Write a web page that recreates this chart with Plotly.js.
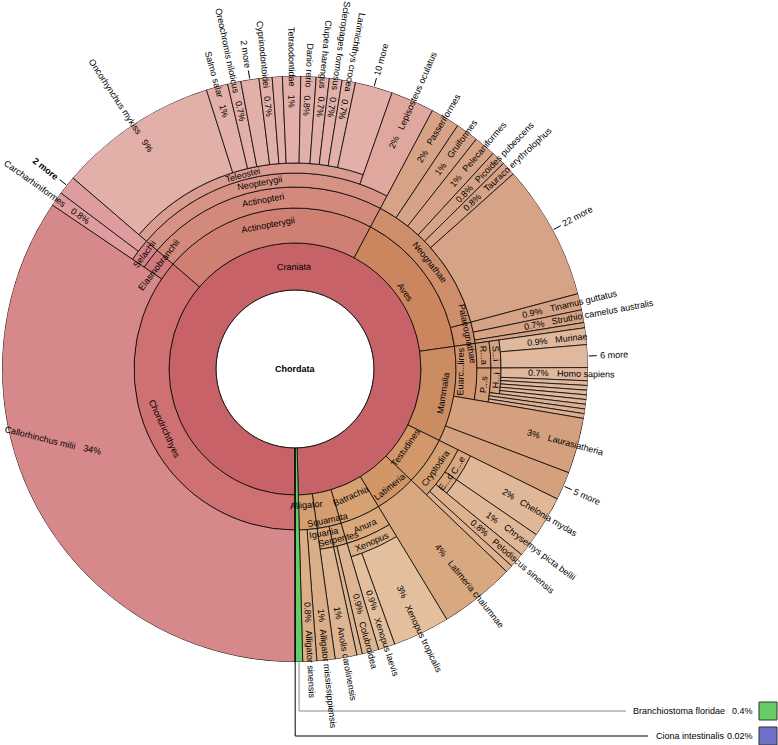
<!DOCTYPE html>
<html><head><meta charset="utf-8">
<script src="https://cdn.plot.ly/plotly-3.0.1.min.js"></script>
<style>html,body{margin:0;padding:0;background:#fff;}#chart{width:778px;height:745px;}</style>
</head><body><div id="chart"></div>
<script>
// ---------------- data (percent of all reads) ----------------
const ids = [
 'Chordata','Craniata',
 'Chondrichthyes','Callorhinchus milii','Elasmobranchii','Selachii','Carcharhiniformes','2 more·Selachii',
 'Actinopterygii','Actinopteri','Neopterygii','Teleostei','Oncorhynchus mykiss','Salmo salar','Oreochromis niloticus',
 '2 more·Teleostei','Cyprinodontoidei','·t1','Tetraodontidae','Danio rerio','Clupea harengus','Scleropages formosus',
 'Larimichthys crocea','10 more·Teleostei','Lepisosteus oculatus',
 'Aves','Neognathae','Passeriformes','Gruiformes','Pelecaniformes','Picoides pubescens','Tauraco erythrolophus',
 '22 more·Neognathae','Palaeognathae','Tinamus guttatus','Struthio camelus australis','·p1',
 'Mammalia','Euarchontoglires','Rodentia','Sciurognathi','Murinae','6 more·Sciurognathi','Primates','Haplorrhini',
 'Homo sapiens','·h1','·h2','·h3','·h4','·h5','·q1','·q2','·q3','Laurasiatheria','5 more·Mammalia',
 'Testudines','Cryptodira','Cheloniidae','Chelonia mydas','Emydidae','Chrysemys picta bellii','Pelodiscus sinensis','·c1',
 'Latimeria','Latimeria chalumnae',
 'Batrachia','Anura','Xenopus','Xenopus tropicalis','Xenopus laevis',
 'Squamata','Serpentes','Colubroidea','·s1','Iguania','Anolis carolinensis',
 'Alligator','Alligator mississippiensis','Alligator sinensis',
 'Branchiostoma floridae','Ciona intestinalis'
];
const parents = [
 '','Chordata',
 'Craniata','Chondrichthyes','Chondrichthyes','Elasmobranchii','Selachii','Selachii',
 'Craniata','Actinopterygii','Actinopteri','Neopterygii','Teleostei','Teleostei','Teleostei',
 'Teleostei','Teleostei','Teleostei','Teleostei','Teleostei','Teleostei','Teleostei',
 'Teleostei','Teleostei','Neopterygii',
 'Craniata','Aves','Neognathae','Neognathae','Neognathae','Neognathae','Neognathae',
 'Neognathae','Aves','Palaeognathae','Palaeognathae','Palaeognathae',
 'Craniata','Mammalia','Euarchontoglires','Rodentia','Sciurognathi','Sciurognathi','Euarchontoglires','Primates',
 'Haplorrhini','Haplorrhini','Haplorrhini','Haplorrhini','Haplorrhini','Haplorrhini','Primates','Primates','Primates','Mammalia','Mammalia',
 'Craniata','Testudines','Cryptodira','Cheloniidae','Cryptodira','Emydidae','Cryptodira','Cryptodira',
 'Craniata','Latimeria',
 'Craniata','Batrachia','Anura','Xenopus','Xenopus',
 'Craniata','Squamata','Serpentes','Serpentes','Squamata','Iguania',
 'Craniata','Alligator','Alligator',
 'Chordata','Chordata'
];
const values = [
 0,0,
 0,34.45,0,0,0.8,1.05,
 0,0,0,0,8.8,1.19,0.73,
 1.0,0.72,0.56,1.0,0.84,0.72,0.7,
 0.74,2.06,2.4,
 0,0,1.6,1.25,1.2,0.78,0.78,
 7.47,0,0.9,0.7,0.29,
 0,0,0,0,0.92,1.25,0,0,
 0.72,0.256,0.256,0.256,0.256,0.256,0.26,0.26,0.26,3.06,1.56,
 0,0,0,2.25,0,1.35,0.82,0.41,
 0,4.17,
 0,0,0,3.14,0.92,
 0,0,0.92,0.3,0,1.2,
 0,1.0,0.77,
 0.4,0.02
];
const shortNames = {Euarchontoglires:'Euarc...lires', Rodentia:'R...a', Sciurognathi:'S...i', Primates:'P...s',
  Haplorrhini:'H...i', Cheloniidae:'C...e', Emydidae:'E...d'};

// ---------------- layout constants ----------------
const W=778, H=745, CX=295, CY=369, R=293;
const RING=[0,79,126,161,182,196,206,214,221,227];
const FONT="Liberation Sans, Arial, sans-serif", FS=9;
const groupBase = {Chondrichthyes:[207,112,114], Actinopterygii:[208,128,114], Aves:[203,134,96],
  Mammalia:[203,140,98], Testudines:[210,152,106], Latimeria:[208,150,102], Batrachia:[214,162,114],
  Squamata:[212,158,112], Alligator:[212,158,112]};
const fixedColors = {'Chordata':'#ffffff','Craniata':'rgb(199,98,104)',
  'Branchiostoma floridae':'rgb(102,204,102)','Ciona intestinalis':'rgb(112,112,200)'};
const innerLabelR = {Aves:134, Testudines:136, Alligator:136, Batrachia:139, Latimeria:151, Squamata:155,
  Mammalia:150, Iguania:167, Serpentes:176, Actinopterygii:147, Palaeognathae:176, Euarchontoglires:166};
const leafLabelPlace = {'Callorhinchus milii':{a:70, g:229, ang:14}, 'Latimeria chalumnae':{g:243}};
const boldIds = {'2 more·Selachii':true};

// ---------------- tree ----------------
const idx={}; ids.forEach((d,i)=>idx[d]=i);
const kids=ids.map(()=>[]);
parents.forEach((p,i)=>{ if(p!=='') kids[idx[p]].push(i); });
const tot=ids.map(()=>0);
function sum(i){ let s=values[i]; kids[i].forEach(k=>{s+=sum(k);}); tot[i]=s; return s; }
sum(0);
const total=tot[0];
const depth=[], a0=[], span=[], group=[];
function lay(i,d,start,g){ depth[i]=d; a0[i]=start; span[i]=tot[i]/total*360;
  group[i]= d===2 ? ids[i] : g;
  let s=start; kids[i].forEach(k=>{lay(k,d+1,s,group[i]); s+=span[k];}); }
lay(0,0,0,null);

function disp(i){ const id=ids[i]; if(shortNames[id]) return shortNames[id]; return id.split('·')[0]; }
function colorOf(i){
  if(fixedColors[ids[i]]) return fixedColors[ids[i]];
  const b=groupBase[group[i]]; const leaf=kids[i].length===0;
  const t=Math.min(0.6, 0.07*(depth[i]-2)+(leaf?0.1:0));
  return 'rgb('+b.map(c=>Math.round(c+(255-c)*t)).join(',')+')';
}

// ---------------- bars ----------------
const br=[], bb=[], bt=[], bw=[], bc=[];
ids.forEach((id,i)=>{
  const d=depth[i]; const leaf=kids[i].length===0;
  const base=RING[d]; const outer= d===0 ? RING[1] : (leaf ? R : RING[d+1]);
  bb.push(base); br.push(outer-base); bt.push(a0[i]+span[i]/2); bw.push(span[i]); bc.push(colorOf(i));
});

// ---------------- labels ----------------
const cv=document.createElement('canvas').getContext('2d');
function tw(s,bold){ cv.font=(bold?'bold ':'')+FS+'px "Liberation Sans"'; return cv.measureText(s).width; }
function xy(r,a){ const t=a*Math.PI/180; return [CX-r*Math.sin(t), CY+r*Math.cos(t)]; }
function px(x){return x/W;} function py(y){return 1-y/H;}
function phi(a){ const t=a*Math.PI/180; return Math.atan2(Math.cos(t), -Math.sin(t))*180/Math.PI; }
function norm180(x){ while(x>180) x-=360; while(x<=-180) x+=360; return x; }
function pctText(v){ const p=v/total*100; if(p>=1) return Math.round(p)+'%'; if(p>=0.1) return p.toFixed(1)+'%'; return p.toFixed(2)+'%'; }
const ann=[], shapes=[];
function textAt(s,x,y,ang,bold){
  ann.push({text:bold?'<b>'+s+'</b>':s, x:px(x), y:py(y), xref:'paper', yref:'paper', showarrow:false,
    xanchor:'center', yanchor:'middle', textangle:ang, font:{family:FONT,size:FS,color:'#000'}}); }
function addText(s,r,a,ang,bold){ const [x,y]=xy(r,a); textAt(s,x,y,ang,bold); }
function addLine(x0,y0,x1,y1,color,w){ shapes.push({type:'line',xref:'paper',yref:'paper',x0:px(x0),y0:py(y0),x1:px(x1),y1:py(y1),line:{color:color,width:w||1}}); }

ids.forEach((id,i)=>{
  const d=depth[i], leaf=kids[i].length===0, name=disp(i), mid=a0[i]+span[i]/2;
  if(d===0){ ann.push({text:'<b>'+name+'</b>',x:px(CX),y:py(CY),xref:'paper',yref:'paper',showarrow:false,
      font:{family:FONT,size:FS,color:'#000'}}); return; }
  if(!name) return;
  if(d===1 && leaf) return; // key labels drawn below
  if(!leaf){
    const r = innerLabelR[id] || (RING[d]+RING[d+1])/2;
    let ang=norm180(phi(mid)+90); if(ang>90) ang-=180; if(ang<=-90) ang+=180;
    addText(name,r,mid,ang,false); return;
  }
  const pl=leafLabelPlace[id]||{}; const a = pl.a!==undefined?pl.a:mid;
  const outward = !(a>10 && a<194);
  const ang = pl.ang!==undefined ? pl.ang : norm180(outward ? phi(a) : phi(a)+180);
  if(/ more$/.test(name)){
    const p0=xy(R+1,a), p1=xy(R+9,a); addLine(p0[0],p0[1],p1[0],p1[1],'#000',1);
    const bold=!!boldIds[id];
    addText(name, R+12+tw(name,bold)/2, a, ang, bold); return;
  }
  const g = pl.g!==undefined ? pl.g : (outward?258:278);
  const ps=pctText(tot[i]);
  const G=xy(g,a); const u=[Math.cos(ang*Math.PI/180), Math.sin(ang*Math.PI/180)];
  const wp=tw(ps), wn=tw(name);
  if(outward){
    textAt(ps, G[0]-u[0]*(4+wp/2), G[1]-u[1]*(4+wp/2), ang);
    textAt(name, G[0]+u[0]*(4+wn/2), G[1]+u[1]*(4+wn/2), ang);
  } else {
    textAt(name, G[0]-u[0]*(4+wn/2), G[1]-u[1]*(4+wn/2), ang);
    textAt(ps, G[0]+u[0]*(4+wp/2), G[1]+u[1]*(4+wp/2), ang);
  }
});

// key for the tiny root-level slices
const keyRows=[{id:'Branchiostoma floridae', y:711, end:626, line:'#888'},{id:'Ciona intestinalis', y:736, end:648, line:'#000'}];
keyRows.forEach(k=>{
  const i=idx[k.id]; const mid=a0[i]+span[i]/2; const [x0,y0]=xy(R,mid);
  addLine(x0,y0,x0,k.y,k.line,1); addLine(x0,k.y,k.end,k.y,k.line,1);
  ann.push({text:k.id,x:px(727),y:py(k.y),xref:'paper',yref:'paper',showarrow:false,xanchor:'right',yanchor:'middle',font:{family:FONT,size:FS,color:'#000'}});
  ann.push({text:pctText(tot[i]),x:px(755),y:py(k.y),xref:'paper',yref:'paper',showarrow:false,xanchor:'right',yanchor:'middle',font:{family:FONT,size:FS,color:'#000'}});
  shapes.push({type:'rect',xref:'paper',yref:'paper',x0:px(759),x1:px(777),y0:py(k.y-9),y1:py(k.y+9),fillcolor:colorOf(i),line:{color:'#333',width:1}});
});

const trace={type:'barpolar', r:br, base:bb, theta:bt, width:bw,
  marker:{color:bc, line:{color:'rgba(0,0,0,0.85)', width:0.9}}, hoverinfo:'skip'};
const layout={width:W,height:H,margin:{l:0,r:0,t:0,b:0},paper_bgcolor:'#fff',showlegend:false,
  polar:{domain:{x:[(CX-R)/W,(CX+R)/W], y:[1-(CY+R)/H, 1-(CY-R)/H]}, bgcolor:'rgba(0,0,0,0)', barmode:'overlay', bargap:0,
    radialaxis:{visible:false, range:[0,R], showgrid:false},
    angularaxis:{visible:false, rotation:-90, direction:'clockwise', showgrid:false, thetaunit:'degrees'}},
  annotations:ann, shapes:shapes};
Plotly.newPlot('chart',[trace],layout,{displayModeBar:false,staticPlot:true});
</script></body></html>
